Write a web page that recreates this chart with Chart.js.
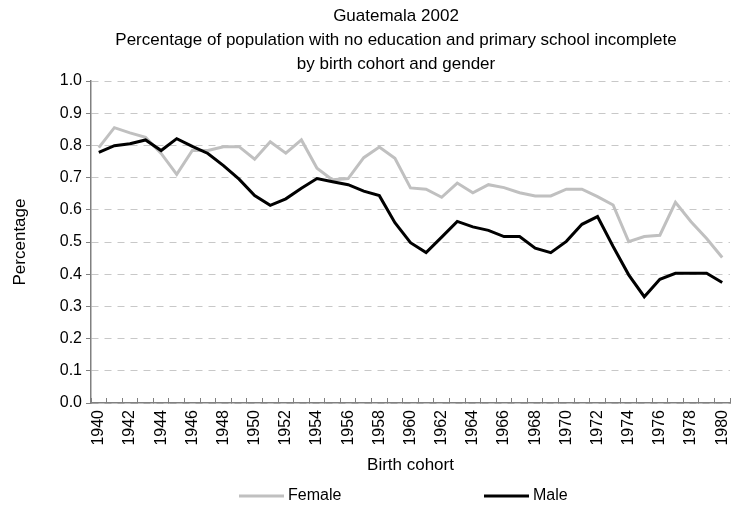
<!DOCTYPE html>
<html>
<head>
<meta charset="utf-8">
<script src="https://cdn.jsdelivr.net/npm/chart.js@4"></script>
<style>
  html, body { margin: 0; padding: 0; background: #fff; }
  #wrap { width: 731px; height: 508px; }
</style>
</head>
<body>
<div id="wrap"><canvas id="chart" width="731" height="508"></canvas></div>
<script>
// birth cohorts (x axis)
const cohorts = ['1940','1941','1942','1943','1944','1945','1946','1947','1948','1949',
  '1950','1951','1952','1953','1954','1955','1956','1957','1958','1959',
  '1960','1961','1962','1963','1964','1965','1966','1967','1968','1969',
  '1970','1971','1972','1973','1974','1975','1976','1977','1978','1979','1980'];

// share with no education / primary incomplete
const female = [0.793, 0.855, 0.839, 0.825, 0.775, 0.710, 0.784, 0.784, 0.796, 0.796,
  0.757, 0.811, 0.776, 0.817, 0.729, 0.693, 0.697, 0.762, 0.795, 0.760,
  0.668, 0.664, 0.639, 0.683, 0.653, 0.678, 0.669, 0.653, 0.643, 0.643,
  0.664, 0.664, 0.641, 0.615, 0.501, 0.517, 0.521, 0.623, 0.563, 0.511, 0.452];
const male = [0.778, 0.799, 0.805, 0.817, 0.784, 0.821, 0.797, 0.775, 0.737, 0.695,
  0.644, 0.614, 0.634, 0.667, 0.697, 0.687, 0.678, 0.658, 0.644, 0.560,
  0.498, 0.467, 0.515, 0.564, 0.547, 0.536, 0.517, 0.517, 0.481, 0.467,
  0.502, 0.555, 0.579, 0.486, 0.398, 0.330, 0.384, 0.403, 0.403, 0.403, 0.374];

const yTicks = [0, 0.1, 0.2, 0.3, 0.4, 0.5, 0.6, 0.7, 0.8, 0.9, 1.0];

const titleLines = ['Guatemala 2002',
  'Percentage of population with no education and primary school incomplete',
  'by birth cohort and gender'];

const FONT = "'Liberation Sans', Arial, sans-serif";

// titles drawn centred over the plot like the excel original
const titlePlugin = {
  id: 'titles',
  afterDraw(chart) {
    const ctx = chart.ctx;
    ctx.save();
    ctx.fillStyle = '#000';
    ctx.font = '17px ' + FONT;
    ctx.textAlign = 'center';
    ctx.textBaseline = 'alphabetic';
    titleLines.forEach((t, i) => ctx.fillText(t, 396, 21 + i * 24));
    ctx.restore();
  }
};

// legend under the axis title, two items spread apart
const legendPlugin = {
  id: 'spreadLegend',
  afterDraw(chart) {
    const ctx = chart.ctx;
    const starts = [239, 484];
    // legend keeps dataset order Female, Male
    const items = [chart.data.datasets[1], chart.data.datasets[0]];
    ctx.save();
    ctx.font = '16px ' + FONT;
    ctx.textBaseline = 'middle';
    items.forEach((ds, i) => {
      const x = starts[i], y = 496;
      ctx.strokeStyle = ds.borderColor;
      ctx.lineWidth = 3;
      ctx.beginPath();
      ctx.moveTo(x, y);
      ctx.lineTo(x + 45, y);
      ctx.stroke();
      ctx.fillStyle = '#000';
      ctx.fillText(ds.label, x + 49, y);
    });
    ctx.restore();
  }
};

new Chart(document.getElementById('chart').getContext('2d'), {
  type: 'line',
  data: {
    labels: cohorts,
    datasets: [
      { label: 'Male', data: male, borderColor: '#000000', borderWidth: 3,
        pointRadius: 0, tension: 0, fill: false },
      { label: 'Female', data: female, borderColor: '#c0c0c0', borderWidth: 3,
        pointRadius: 0, tension: 0, fill: false }
    ]
  },
  options: {
    responsive: false,
    animation: false,
    layout: { padding: { top: 81, right: 1, left: 0, bottom: 0 } },
    plugins: {
      legend: { display: false },
      title: { display: false },
      tooltip: { enabled: false }
    },
    scales: {
      x: {
        type: 'category',
        offset: true,
        afterFit: s => { s.height = 105; s.paddingLeft = 0; s.paddingRight = 0; },
        grid: { offset: true, drawOnChartArea: false, drawTicks: true,
          tickLength: -5, tickColor: '#808080', lineWidth: 1 },
        border: { color: '#808080', width: 1.5 },
        ticks: {
          autoSkip: false, maxRotation: 90, minRotation: 90, padding: 12,
          color: '#000', font: { family: FONT, size: 16 },
          callback: function (v, i) { return i % 2 === 0 ? this.getLabelForValue(v) : ''; }
        },
        title: { display: true, text: 'Birth cohort', color: '#000',
          font: { family: FONT, size: 17 }, padding: { top: 0, bottom: 32 } }
      },
      y: {
        min: 0, max: 1,
        afterFit: s => { s.width = 91; s.paddingTop = 0; s.paddingBottom = 0; },
        afterBuildTicks: s => { s.ticks = yTicks.map(v => ({ value: v })); },
        grid: { color: '#c8c8c8', lineWidth: 1, drawTicks: true, tickLength: 5,
          tickColor: '#808080' },
        border: { color: '#808080', width: 1.5, dash: [7, 6] },
        ticks: { padding: 4, color: '#000', font: { family: FONT, size: 16 },
          callback: v => v.toFixed(1) },
        title: { display: true, text: 'Percentage', color: '#000',
          font: { family: FONT, size: 17 }, padding: { top: 10, bottom: 0 } }
      }
    }
  },
  plugins: [titlePlugin, legendPlugin]
});
</script>
</body>
</html>
